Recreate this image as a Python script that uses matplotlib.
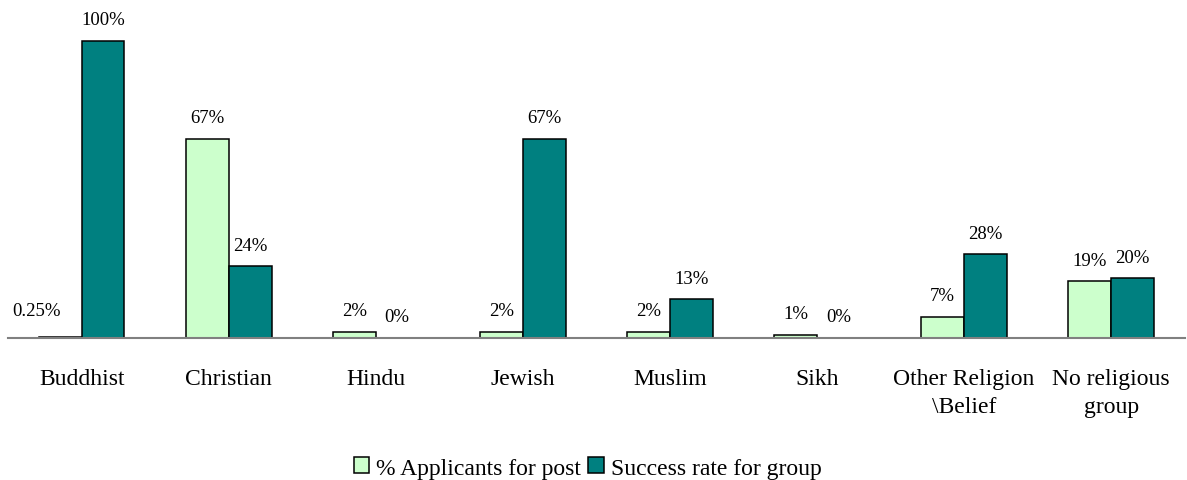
import numpy as np
import matplotlib.pyplot as plt
from matplotlib.patches import Patch

# religion groups and the two series (percent)
groups = ['Buddhist', 'Christian', 'Hindu', 'Jewish', 'Muslim', 'Sikh',
          'Other Religion\n\\Belief', 'No religious\ngroup']
applicants = [0.25, 67, 2, 2, 2, 1, 7, 19]
success = [100, 24, 0, 67, 13, 0, 28, 20]
applicant_labels = ['0.25%', '67%', '2%', '2%', '2%', '1%', '7%', '19%']
success_labels = ['100%', '24%', '0%', '67%', '13%', '0%', '28%', '20%']

light = '#CCFFCC'
dark = '#008080'

plt.rcParams['font.family'] = ['Liberation Serif', 'DejaVu Serif']

fig = plt.figure(figsize=(11.87, 4.81), dpi=100)
ax = fig.add_axes([0.007, 0.296, 0.991, 0.704])

x = np.arange(len(groups))
w = 0.29
b1 = ax.bar(x - w / 2, applicants, w, color=light, edgecolor='black', linewidth=1.1, zorder=2)
b2 = ax.bar(x + w / 2, success, w, color=dark, edgecolor='black', linewidth=1.1, zorder=2)

for i, (rect, lab) in enumerate(zip(b1, applicant_labels)):
    off = (0, 15)
    if i == 0:
        off = (-17, 19)   # the small Buddhist label sits off to the left
    ax.annotate(lab, (rect.get_x() + rect.get_width() / 2, rect.get_height()),
                xytext=off, textcoords='offset points', ha='center', va='center',
                fontsize=13.5)
for rect, lab in zip(b2, success_labels):
    ax.annotate(lab, (rect.get_x() + rect.get_width() / 2, rect.get_height()),
                xytext=(0, 15), textcoords='offset points', ha='center', va='center',
                fontsize=13.5)

ax.set_xlim(-0.5, len(groups) - 0.5)
ax.set_ylim(0, 114)
ax.set_xticks(x)
ax.set_xticklabels(groups, fontsize=17, linespacing=1.45)
ax.tick_params(axis='x', length=0, pad=22)
ax.set_yticks([])
for s in ['top', 'left', 'right']:
    ax.spines[s].set_visible(False)
ax.spines['bottom'].set_color('#808080')
ax.spines['bottom'].set_linewidth(1.5)

handles = [Patch(facecolor=light, edgecolor='black', linewidth=1.1),
           Patch(facecolor=dark, edgecolor='black', linewidth=1.1)]
fig.legend(handles, ['% Applicants for post', 'Success rate for group'],
           loc='center', bbox_to_anchor=(0.495, 0.025), ncol=2, frameon=False,
           fontsize=17, handlelength=0.65, handleheight=0.65, handletextpad=0.3,
           columnspacing=0.3)

fig.savefig('out.png', dpi=100)
